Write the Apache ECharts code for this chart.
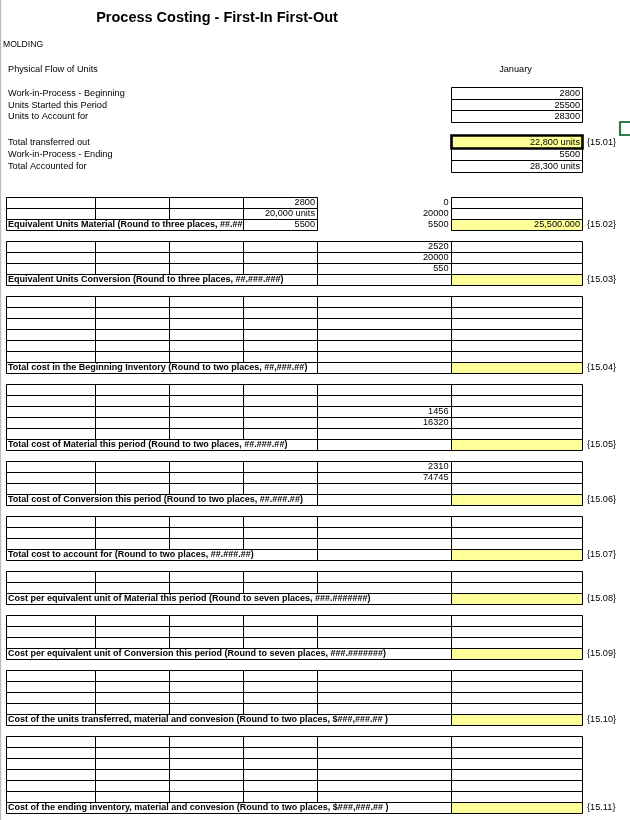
<!DOCTYPE html>
<html><head><meta charset="utf-8">
<script src="https://cdn.jsdelivr.net/npm/echarts@6/dist/echarts.min.js"></script>
<style>html,body{margin:0;padding:0;background:#fff}#c{width:630px;height:820px}</style>
</head><body><div id="c"></div>
<script>
// ---------------- data (sheet content) ----------------
const sheetTitle = 'Process Costing - First-In First-Out';
const department = 'MOLDING';
const sectionLabel = 'Physical Flow of Units';
const periodLabel = 'January';
const flowLabels = ['Work-in-Process - Beginning', 'Units Started this Period', 'Units to Account for',
                    'Total transferred out', 'Work-in-Process - Ending', 'Total Accounted for'];
const flowValues = ['2800', '25500', '28300', '22,800 units', '5500', '28,300 units'];
const answerCodes = ['{15.01}', '{15.02}', '{15.03}', '{15.04}', '{15.05}', '{15.06}',
                     '{15.07}', '{15.08}', '{15.09}', '{15.10}', '{15.11}'];
const blockLabels = [
  'Equivalent Units Material (Round to three places, ##.##',
  'Equivalent Units Conversion (Round to three places, ##.###.###)',
  'Total cost in the Beginning Inventory (Round to two places, ##,###.##)',
  'Total cost of Material this period (Round to two places, ##.###.##)',
  'Total cost of Conversion this period (Round to two places, ##.###.##)',
  'Total cost to account for (Round to two places, ##.###.##)',
  'Cost per equivalent unit of Material this period (Round to seven places, ###.#######)',
  'Cost per equivalent unit of Conversion this period (Round to seven places, ###.#######)',
  'Cost of the units transferred, material and convesion (Round to two places, $###,###.## )',
  'Cost of the ending inventory, material and convesion (Round to two places, $###,###.## )'
];
const blockRowCounts = [3, 4, 7, 6, 4, 4, 3, 4, 5, 7];
const colDValues = [['2800', '20,000 units', '5500'], [], [], [], [], [], [], [], [], []];
const colEValues = [['0', '20000', '5500'], ['2520', '20000', '550'], [], ['', '', '1456', '16320'],
                    ['2310', '74745'], [], [], [], [], []];
const blockAnswers = ['25,500.000', '', '', '', '', '', '', '', '', ''];

// ---------------- layout (sheet geometry in points) ----------------
const COLS = [5.5, 94.5, 169, 243, 317, 450.5, 582];
const labelEndCol = [3, 4, 4, 4, 4, 4, 5, 5, 5, 5];
const eColBordered = [false, true, true, true, true, true, true, true, true, true];
const topRowEdges = [86.7, 98.6, 110.4, 122.2, 135.2, 148, 160, 171.7];
const lowerTop = 196.7, rowH = 11;
const FONT = 'Liberation Sans, Arial, Helvetica, sans-serif';
const YELLOW = '#ffff99';
const FS = 9.2, FSB = 9.0;

const fills = [], boxes = [], texts = [];
function cell(x0, x1, y0, y1, opt) {
  opt = opt || {};
  if (opt.fill) fills.push({x0, x1, y0, y1, fill: opt.fill});
  if (opt.border !== false) boxes.push({x0, x1, y0, y1, lw: opt.lw || 1, stroke: opt.stroke || '#000'});
  if (opt.text) texts.push({x: opt.align === 'right' ? x1 - 2 : x0 + 2.5, y: (y0 + y1) / 2 + 0.5,
    text: opt.text, align: opt.align || 'left', bold: opt.bold, size: opt.size || FS});
}
function label(x, y, text, o) {
  o = o || {};
  texts.push({x, y, text, align: o.align || 'left', bold: o.bold, size: o.size || FS});
}

// header texts
label(217, 18, sheetTitle, {align: 'center', bold: true, size: 14.5});
label(3, 44.5, department, {size: 8.6});
label(8, 69, sectionLabel);
label(515.5, 69, periodLabel, {align: 'center'});

// physical flow of units
const flowRowIdx = [0, 1, 2, 4, 5, 6];
flowLabels.forEach((t, i) => {
  const r = flowRowIdx[i];
  const y0 = topRowEdges[r], y1 = topRowEdges[r + 1];
  label(8, (y0 + y1) / 2 + 0.5, t);
  const isAnswer = i === 3;
  cell(COLS[5], COLS[6], y0, y1, {text: flowValues[i], align: 'right',
       fill: isAnswer ? YELLOW : null, lw: isAnswer ? 2.6 : 1});
  if (isAnswer) label(587, (y0 + y1) / 2 + 0.5, answerCodes[0]);
});
// selected-cell marker at the window's right edge
cell(619.5, 640, 122, 134.5, {stroke: '#2e7b4c', lw: 2.2});

// lower blocks
let start = 0;
blockRowCounts.forEach((n, b) => {
  for (let r = 0; r < n; r++) {
    const y0 = lowerTop + (start + r) * rowH, y1 = y0 + rowH;
    const total = r === n - 1;
    let c = 0;
    if (total) {
      cell(COLS[0], COLS[labelEndCol[b]], y0, y1, {text: blockLabels[b], bold: true, size: FSB});
      c = labelEndCol[b];
    }
    for (; c < 6; c++) {
      let txt = '';
      if (c === 3 && colDValues[b][r]) txt = colDValues[b][r];
      if (c === 4 && colEValues[b][r]) txt = colEValues[b][r];
      if (c === 5 && total) txt = blockAnswers[b];
      const bordered = !(c === 4 && !eColBordered[b]);
      cell(COLS[c], COLS[c + 1], y0, y1, {text: txt, align: 'right', border: bordered,
           fill: (c === 5 && total) ? YELLOW : null});
    }
    if (total) label(587, (y0 + y1) / 2 + 0.5, answerCodes[b + 1]);
  }
  start += n + 1;
});

// ---------------- chart ----------------
const chart = echarts.init(document.getElementById('c'), null, {renderer: 'canvas'});
function snap(v, lw) { return (Math.round(lw) % 2 === 1) ? Math.round(v) + 0.5 : Math.round(v); }

chart.setOption({
  animation: false,
  grid: {left: 0, right: 0, top: 0, bottom: 0},
  xAxis: {type: 'value', min: 0, max: 630, show: false},
  yAxis: {type: 'value', min: 0, max: 820, inverse: true, show: false},
  series: [
    { // left window edge
      type: 'line', silent: true, symbol: 'none', z: 1,
      data: [[0.6, 0], [0.6, 820]], lineStyle: {color: '#bdbdbd', width: 1.2}
    },
    {
      type: 'custom', coordinateSystem: 'cartesian2d', clip: false, silent: true, z: 2,
      data: fills.map((_, i) => [i]),
      renderItem: (p, api) => {
        const f = fills[api.value(0)];
        const a = api.coord([f.x0, f.y0]), b = api.coord([f.x1, f.y1]);
        const x0 = Math.round(a[0]), y0 = Math.round(a[1]);
        return {type: 'rect', shape: {x: x0, y: y0, width: Math.round(b[0]) - x0, height: Math.round(b[1]) - y0},
                style: {fill: f.fill}};
      }
    },
    {
      type: 'custom', coordinateSystem: 'cartesian2d', clip: false, silent: true, z: 3,
      data: boxes.map((_, i) => [i]),
      renderItem: (p, api) => {
        const f = boxes[api.value(0)];
        const a = api.coord([f.x0, f.y0]), b = api.coord([f.x1, f.y1]);
        const x0 = snap(a[0], f.lw), y0 = snap(a[1], f.lw), x1 = snap(b[0], f.lw), y1 = snap(b[1], f.lw);
        return {type: 'rect', shape: {x: x0, y: y0, width: x1 - x0, height: y1 - y0},
                style: {fill: null, stroke: f.stroke, lineWidth: f.lw}};
      }
    },
    {
      type: 'custom', coordinateSystem: 'cartesian2d', clip: false, silent: true, z: 4,
      data: texts.map((_, i) => [i]),
      renderItem: (p, api) => {
        const t = texts[api.value(0)];
        const a = api.coord([t.x, t.y]);
        return {type: 'text', x: a[0], y: a[1],
                style: {text: t.text, fill: '#000', align: t.align, verticalAlign: 'middle',
                        fontSize: t.size, fontFamily: FONT, fontWeight: t.bold ? 'bold' : 'normal'}};
      }
    }
  ]
});
</script></body></html>
